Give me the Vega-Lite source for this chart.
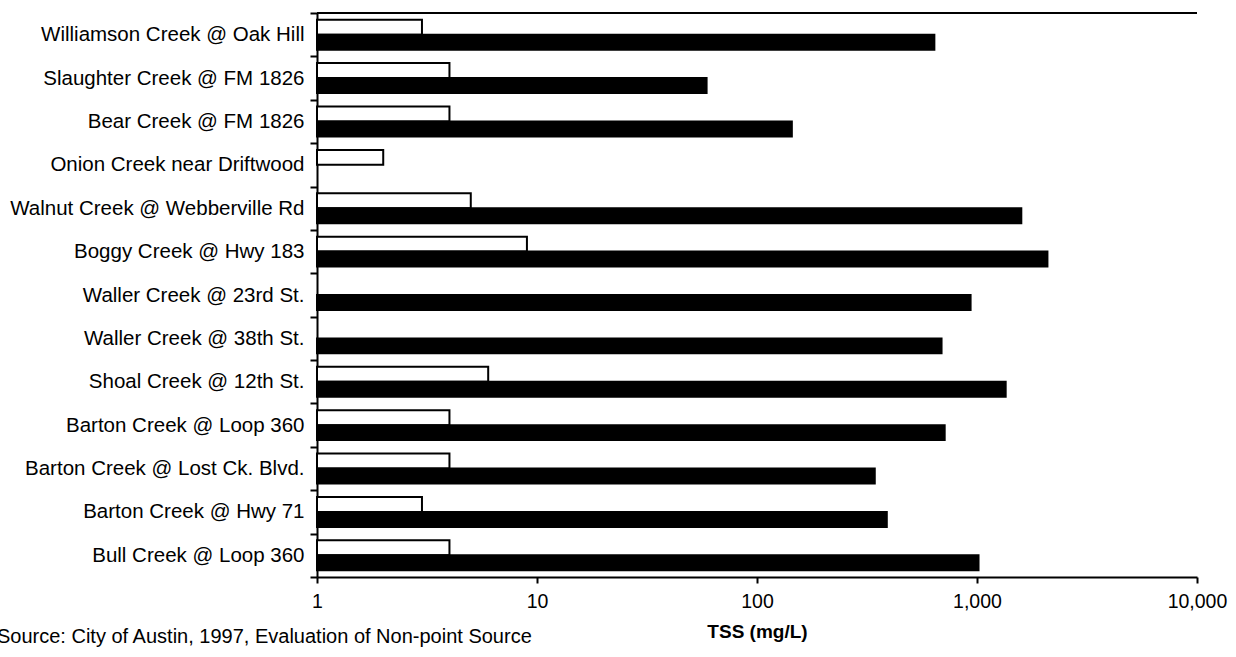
{
  "$schema": "https://vega.github.io/schema/vega-lite/v6.json",
  "width": 880,
  "height": 564,
  "autosize": {"type": "none"},
  "padding": {"left": 317, "top": 13, "right": 39, "bottom": 80},
  "background": "white",
  "config": {
    "view": {"stroke": null},
    "font": "Liberation Sans",
    "axis": {"labelFont": "Liberation Sans", "titleFont": "Liberation Sans"}
  },
  "title": {
    "text": "Source: City of Austin, 1997, Evaluation of Non-point Source",
    "orient": "bottom",
    "anchor": "start",
    "frame": "group",
    "dx": -320,
    "offset": -15,
    "fontSize": 20,
    "fontWeight": "normal",
    "font": "Liberation Sans",
    "color": "black"
  },
  "data": {
    "values": [
      {"site": "Williamson Creek @ Oak Hill", "flow": "Baseflow", "tss": 3},
      {"site": "Williamson Creek @ Oak Hill", "flow": "Storm", "tss": 640},
      {"site": "Slaughter Creek @ FM 1826", "flow": "Baseflow", "tss": 4},
      {"site": "Slaughter Creek @ FM 1826", "flow": "Storm", "tss": 59},
      {"site": "Bear Creek @ FM 1826", "flow": "Baseflow", "tss": 4},
      {"site": "Bear Creek @ FM 1826", "flow": "Storm", "tss": 144},
      {"site": "Onion Creek near Driftwood", "flow": "Baseflow", "tss": 2},
      {"site": "Walnut Creek @ Webberville Rd", "flow": "Baseflow", "tss": 5},
      {"site": "Walnut Creek @ Webberville Rd", "flow": "Storm", "tss": 1590},
      {"site": "Boggy Creek @ Hwy 183", "flow": "Baseflow", "tss": 9},
      {"site": "Boggy Creek @ Hwy 183", "flow": "Storm", "tss": 2090},
      {"site": "Waller Creek @ 23rd St.", "flow": "Storm", "tss": 935},
      {"site": "Waller Creek @ 38th St.", "flow": "Storm", "tss": 690},
      {"site": "Shoal Creek @ 12th St.", "flow": "Baseflow", "tss": 6},
      {"site": "Shoal Creek @ 12th St.", "flow": "Storm", "tss": 1350},
      {"site": "Barton Creek @ Loop 360", "flow": "Baseflow", "tss": 4},
      {"site": "Barton Creek @ Loop 360", "flow": "Storm", "tss": 713},
      {"site": "Barton Creek @ Lost Ck. Blvd.", "flow": "Baseflow", "tss": 4},
      {"site": "Barton Creek @ Lost Ck. Blvd.", "flow": "Storm", "tss": 343},
      {"site": "Barton Creek @ Hwy 71", "flow": "Baseflow", "tss": 3},
      {"site": "Barton Creek @ Hwy 71", "flow": "Storm", "tss": 389},
      {"site": "Bull Creek @ Loop 360", "flow": "Baseflow", "tss": 4},
      {"site": "Bull Creek @ Loop 360", "flow": "Storm", "tss": 1016}
    ]
  },
  "layer": [
    {
      "mark": {"type": "bar", "stroke": "black", "strokeWidth": 2},
      "encoding": {
        "y": {
          "field": "site",
          "type": "nominal",
          "sort": null,
          "scale": {"paddingInner": 0, "paddingOuter": 0},
          "axis": {
            "title": null,
            "tickBand": "extent",
            "domainColor": "black",
            "domainWidth": 2,
            "tickColor": "black",
            "tickWidth": 2,
            "tickSize": 7,
            "labelFontSize": 20.5,
            "labelColor": "black",
            "labelPadding": 6,
            "labelLimit": 400
          }
        },
        "yOffset": {
          "field": "flow",
          "type": "nominal",
          "sort": ["Baseflow", "Storm"],
          "scale": {"paddingOuter": 0.45, "paddingInner": 0}
        },
        "x": {
          "field": "tss",
          "type": "quantitative",
          "scale": {"type": "log", "domain": [1, 10000]},
          "axis": {
            "values": [1, 10, 100, 1000, 10000],
            "format": ",",
            "title": "TSS (mg/L)",
            "titleFontWeight": "bold",
            "titleFontSize": 19,
            "titleColor": "black",
            "titlePadding": 12,
            "labelFontSize": 19.5,
            "labelColor": "black",
            "labelPadding": 9,
            "labelFlush": false,
            "tickColor": "black",
            "tickWidth": 2,
            "tickSize": 6,
            "domainColor": "black",
            "domainWidth": 2,
            "grid": false
          }
        },
        "x2": {"datum": 1},
        "fill": {
          "field": "flow",
          "type": "nominal",
          "scale": {"domain": ["Baseflow", "Storm"], "range": ["white", "black"]},
          "legend": null
        }
      }
    },
    {
      "mark": {"type": "rule", "color": "black", "strokeWidth": 1.5},
      "encoding": {"y": {"value": 0}}
    }
  ]
}
